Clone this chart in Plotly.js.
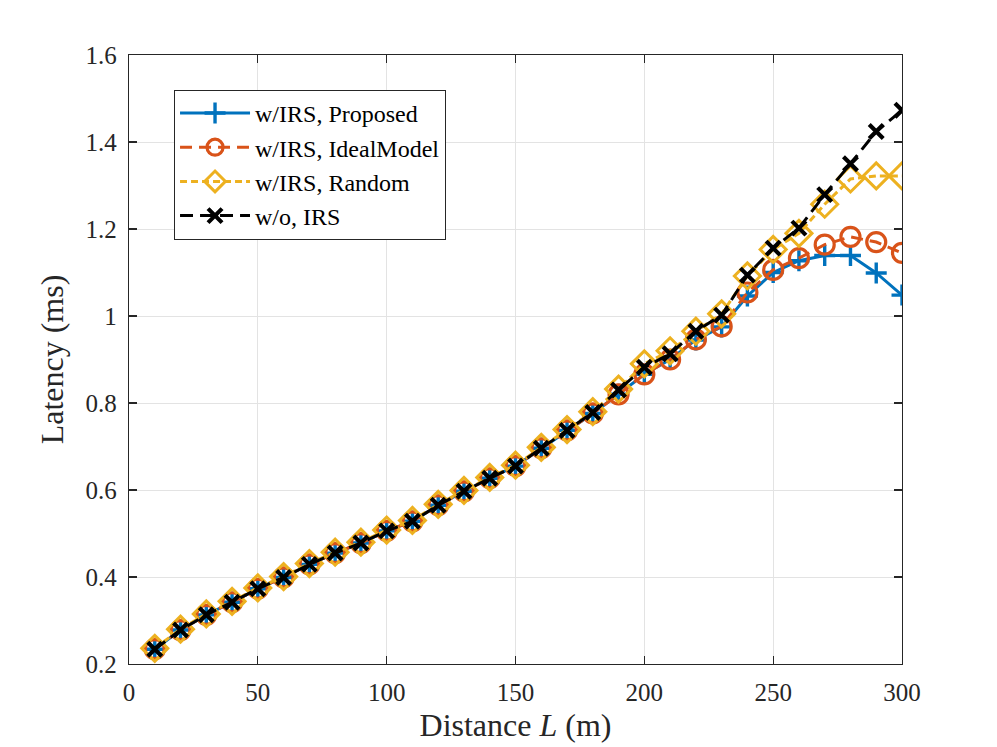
<!DOCTYPE html>
<html>
<head>
<meta charset="utf-8">
<script src="https://cdn.plot.ly/plotly-3.0.1.min.js"></script>
<style>
  html, body { margin: 0; padding: 0; background: #ffffff; }
  #chart { width: 997px; height: 747px; }
</style>
</head>
<body>
<div id="chart"></div>
<script>
// Distance L (m)
const distance = [10, 20, 30, 40, 50, 60, 70, 80, 90, 100,
  110, 120, 130, 140, 150, 160, 170, 180, 190, 200,
  210, 220, 230, 240, 250, 260, 270, 280, 290, 300];

// Latency (ms) per scheme
const proposed = [0.234, 0.278, 0.313, 0.342, 0.373, 0.399, 0.429, 0.455, 0.478, 0.506,
  0.528, 0.565, 0.597, 0.627, 0.655, 0.696, 0.737, 0.776, 0.820, 0.866,
  0.900, 0.945, 0.975, 1.046, 1.100, 1.127, 1.139, 1.139, 1.099, 1.048];

const idealModel = [0.234, 0.278, 0.313, 0.342, 0.373, 0.399, 0.429, 0.455, 0.478, 0.506,
  0.528, 0.565, 0.597, 0.627, 0.655, 0.696, 0.737, 0.776, 0.820, 0.866,
  0.900, 0.946, 0.976, 1.054, 1.106, 1.133, 1.164, 1.182, 1.170, 1.145];

const random = [0.236, 0.280, 0.315, 0.344, 0.375, 0.401, 0.431, 0.457, 0.480, 0.508,
  0.530, 0.567, 0.599, 0.629, 0.657, 0.698, 0.739, 0.780, 0.832, 0.890,
  0.920, 0.965, 1.005, 1.092, 1.153, 1.190, 1.257, 1.315, 1.322, 1.322];

const withoutIrs = [0.234, 0.278, 0.313, 0.342, 0.373, 0.399, 0.429, 0.455, 0.478, 0.506,
  0.528, 0.565, 0.597, 0.627, 0.655, 0.696, 0.737, 0.778, 0.830, 0.882,
  0.913, 0.965, 1.002, 1.094, 1.156, 1.202, 1.279, 1.350, 1.424, 1.473];

const xTicks = [0, 50, 100, 150, 200, 250, 300];
const yTicks = [0.2, 0.4, 0.6, 0.8, 1.0, 1.2, 1.4, 1.6];

const FONT = 'Liberation Serif, Times New Roman, serif';

const makeTrace = (y, name, color, dash, symbol, size, lw) => ({
  x: distance,
  y: y,
  name: name,
  type: 'scatter',
  mode: 'lines+markers',
  line: { color: color, width: 3, dash: dash },
  marker: {
    symbol: symbol,
    size: size,
    color: color,
    line: { color: color, width: lw }
  }
});

const traces = [
  makeTrace(proposed, 'w/IRS, Proposed', '#0072BD', 'solid', 'cross-thin-open', 15, 3.4),
  makeTrace(idealModel, 'w/IRS, IdealModel', '#D95319', '12px,7px', 'circle-open', 19, 3.2),
  makeTrace(random, 'w/IRS, Random', '#EDB120', '7px,4px', 'diamond-open', 20, 3),
  makeTrace(withoutIrs, 'w/o, IRS', '#000000', '13px,7px', 'x-thin-open', 14, 4.2)
];

const axisCommon = {
  showline: true,
  linecolor: '#262626',
  linewidth: 1.2,
  mirror: 'ticks',
  ticks: 'inside',
  ticklen: 8,
  tickcolor: '#262626',
  tickwidth: 1.2,
  showgrid: true,
  gridcolor: '#e3e3e3',
  gridwidth: 1,
  zeroline: false,
  tickfont: { family: FONT, size: 25, color: '#262626' }
};

const layout = {
  width: 997,
  height: 747,
  paper_bgcolor: '#ffffff',
  plot_bgcolor: '#ffffff',
  margin: { l: 129, r: 95, t: 55, b: 83 },
  font: { family: FONT, color: '#262626' },
  showlegend: true,
  xaxis: Object.assign({}, axisCommon, {
    range: [0, 300],
    tickvals: xTicks,
    ticktext: xTicks.map(String),
    ticklabelstandoff: 6,
    title: { text: 'Distance <i>L</i> (m)', font: { family: FONT, size: 32, color: '#262626' }, standoff: 8 }
  }),
  yaxis: Object.assign({}, axisCommon, {
    range: [0.2, 1.6],
    tickvals: yTicks,
    ticktext: yTicks.map(v => String(Math.round(v * 10) / 10)),
    ticklabelstandoff: 6,
    title: { text: 'Latency (ms)', font: { family: FONT, size: 32, color: '#262626' }, standoff: 12 }
  }),
  legend: {
    x: 0.058,
    y: 0.943,
    xanchor: 'left',
    yanchor: 'top',
    bgcolor: '#ffffff',
    bordercolor: '#262626',
    borderwidth: 1.2,
    itemwidth: 70,
    tracegroupgap: 0,
    font: { family: FONT, size: 24, color: '#000000' }
  }
};

Plotly.newPlot('chart', traces, layout, { displayModeBar: false, staticPlot: true });
</script>
</body>
</html>
